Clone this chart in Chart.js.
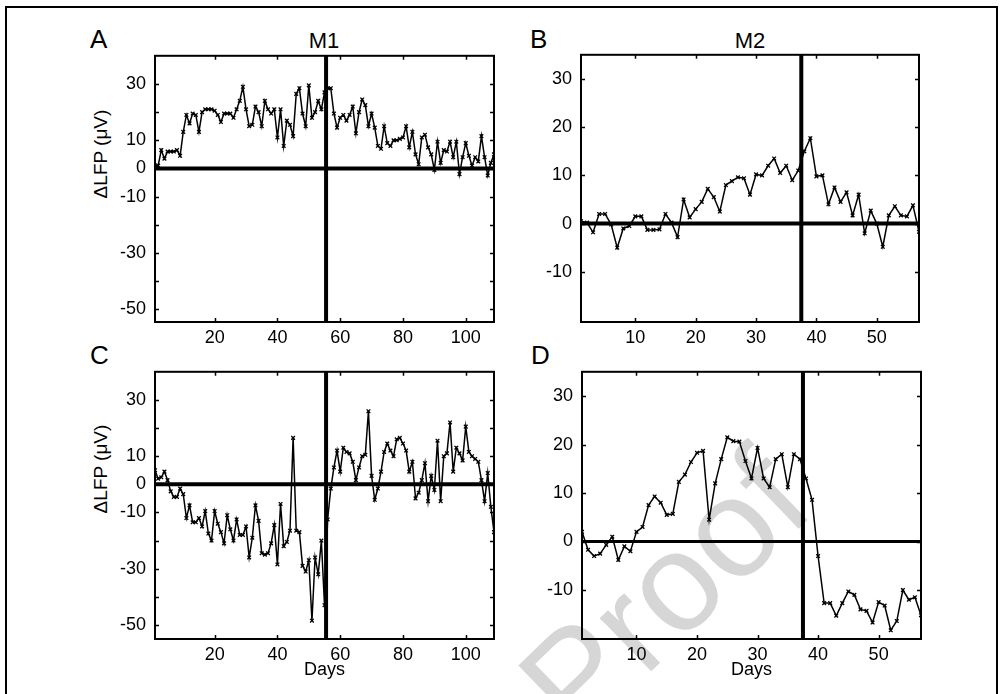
<!DOCTYPE html>
<html>
<head>
<meta charset="utf-8">
<script src="https://cdn.jsdelivr.net/npm/chart.js@4.4.1/dist/chart.umd.min.js"></script>
<style>
  html, body { margin:0; padding:0; background:#fff; width:1003px; height:694px; overflow:hidden; font-family:"Liberation Sans", Arial, sans-serif; }
  .frame { position:absolute; left:5px; top:6px; width:989px; height:760px; border:2px solid #000; }
  .lbl { position:absolute; color:#000; line-height:1; white-space:nowrap; }
  .ylab { position:absolute; color:#000; line-height:1; white-space:nowrap; font-size:19px; transform:translate(-50%,-50%) rotate(-90deg); }
  .wm { position:absolute; color:#d6d6d6; font-size:140px; line-height:1; white-space:nowrap; transform:translate(-50%,-50%) rotate(-44deg); }
  .panel { position:absolute; }
  .panel canvas { display:block; }
</style>
</head>
<body>
<div class="frame"></div>
<div class="wm" style="left:664px; top:592px;">Proof</div>

<div class="lbl" style="left:90px; top:26px; font-size:26px;">A</div>
<div class="lbl" style="left:530px; top:26px; font-size:26px;">B</div>
<div class="lbl" style="left:90px; top:342px; font-size:26px;">C</div>
<div class="lbl" style="left:531px; top:342px; font-size:26px;">D</div>
<div class="lbl" style="left:324px; top:30px; font-size:22px; transform:translateX(-50%);">M1</div>
<div class="lbl" style="left:750px; top:30px; font-size:22px; transform:translateX(-50%);">M2</div>
<div class="ylab" style="left:100px; top:154px;">ΔLFP (μV)</div>
<div class="ylab" style="left:100px; top:469px;">ΔLFP (μV)</div>

<div class="panel" id="pA"><canvas id="cA"></canvas></div>
<div class="panel" id="pB"><canvas id="cB"></canvas></div>
<div class="panel" id="pC"><canvas id="cC"></canvas></div>
<div class="panel" id="pD"><canvas id="cD"></canvas></div>

<script>
// ---------------- DATA ----------------
// Days (categories)
const daysM1 = [];
for (let d = 1; d <= 109; d++) daysM1.push(d);
const daysM2 = [];
for (let d = 1; d <= 57; d++) daysM2.push(d);

// Panel A (M1, top)
const valuesA = [
  1, 1, 6.5, 3.5, 6, 6, 6, 6.5, 4.5, 13,
  19, 16, 19.5, 19, 13, 20, 21, 21, 21, 20.5,
  19, 16.5, 19.5, 19.5, 19.5, 18, 21, 24, 29, 21,
  15, 15.5, 22, 20, 15, 24, 21, 19.5, 21, 11,
  21, 8, 17, 15.5, 11.5, 26.5, 28.5, 19.5, 15, 29.5,
  18, 20, 24, 21, 27, 28.5, 28.5, 19.5, 14.5, 18,
  19, 17, 19, 22, 12.5, 20, 24.5, 22.5, 15, 19.5,
  14.5, 8, 7, 15, 9, 8, 10, 10, 10.5, 11,
  15, 7.5, 13, 5, 1.5, 11, 12, 7.5, 5, -0.5,
  9.5, 2, 6.5, 6, 9.5, 4, 9.5, -2, 4, 9,
  4.5, 1, 4, 2.5, 11.5, 4, -2.5, 2, 5
];
// Panel B (M2, top)
const valuesB = [
  0.5, 0.2, -1.8, 2, 2, -0.2, -5, -1, -0.5, 1.5,
  1.5, -1.3, -1.3, -1.2, 2, 0.2, -2.8, 5, 1.3, 3,
  4.5, 7.2, 5.5, 2.5, 8, 8.8, 9.6, 9.4, 6, 10.2,
  10, 12, 13.5, 10.5, 12, 9, 11, 15, 17.7, 9.8,
  10, 4, 7.5, 4.5, 6.5, 1.7, 6, -2, 2.7, 0,
  -4.8, 1.7, 3.6, 1.7, 1.5, 3.8, -1.7
];
// Panel C (M1, bottom)
const valuesC = [
  5, 2, 2.5, 4.5, 1.5, -2.5, -4.5, -4.5, -1.5, -3.5,
  -12, -7.5, -13.5, -13.5, -12, -15, -9.5, -17.5, -20, -9.5,
  -14, -17, -21, -11, -16, -20, -12.5, -18, -18, -15,
  -26, -19, -7.5, -13, -24.5, -25, -24.5, -21, -14.5, -28.5,
  -7, -22, -20.5, -16.5, 16.5, -16.5, -17, -29, -31, -27,
  -48.5, -26, -32, -20, -43, -12.5, -1.5, 6, 12, 4.5,
  13, 11.5, 11, 8, 1.5, 6, 10, 10.5, 26, 3,
  -5.5, -1.5, 4.5, 11.5, 14.5, 12, 10, 16, 16.5, 14.5,
  12, 4.5, 8, -5, -3, 1.5, 7.5, -6, 3, -2,
  15.5, -6, 10, 11, 22, 4.5, 13, 11, 8.5, 20.5,
  11.5, 10, 9, 8, 1.5, -6, 4, -8, -17
];
// Panel D (M2, bottom)
const valuesD = [
  2, -1.7, -3, -2.5, -0.7, 1, -3.8, -1, -2, 2,
  3, 7.5, 9.3, 8, 5.5, 5.7, 12.3, 13.8, 16.4, 18.3,
  18.7, 4.5, 12, 17, 21.5, 20.7, 20.6, 16.6, 13, 19.3,
  13, 11.2, 17, 18, 11.2, 18, 17, 13, 8.6, -3,
  -12.7, -12.7, -15.3, -12.7, -10.3, -11, -14, -14.3, -16.7, -12.5,
  -13.2, -18.3, -16.4, -10, -12, -11.5, -15.2
];

// Event days (vertical lines)
const eventDayM1 = 55.5;
const eventDayM2 = 37.5;

// Tick values / labels
const xTicksM1 = [20, 40, 60, 80, 100];
const xTicksM2 = [10, 20, 30, 40, 50];
const yTicksM1 = [-50, -40, -30, -20, -10, 0, 10, 20, 30];
const yLabelsM1 = [-50, -30, -10, 0, 10, 30];
const yTicksM2 = [-10, 0, 10, 20, 30];
const yLabelsM2 = [-10, 0, 10, 20, 30];

// ---------------- DRAWING ----------------
const AX_W = 80, PAD_T = 12, PAD_R = 10, AX_H = 42;
const FONT = '"Liberation Sans", Arial, sans-serif';

const boxPlugin = {
  id: 'matlabBox',
  afterDatasetsDraw(chart) {
    const { ctx, chartArea: a, scales: { x, y } } = chart;
    const L = 4;
    ctx.save();
    ctx.strokeStyle = '#000';
    ctx.lineWidth = 1.5;
    ctx.beginPath();
    x.ticks.forEach(t => {
      const px = Math.round(x.getPixelForValue(t.value)) + 0.5;
      ctx.moveTo(px, a.bottom); ctx.lineTo(px, a.bottom - L);
      ctx.moveTo(px, a.top); ctx.lineTo(px, a.top + L);
    });
    y.ticks.forEach(t => {
      const py = Math.round(y.getPixelForValue(t.value)) + 0.5;
      ctx.moveTo(a.left, py); ctx.lineTo(a.left + L, py);
      ctx.moveTo(a.right, py); ctx.lineTo(a.right - L, py);
    });
    ctx.stroke();
    ctx.lineWidth = 2;
    ctx.strokeRect(a.left, a.top, a.right - a.left, a.bottom - a.top);
    ctx.restore();
  }
};

function makeConfig(g) {
  const series = g.days.map((d, i) => ({ x: d, y: g.values[i] }));
  const tickFont = { family: FONT, size: 18 };
  return {
    type: 'line',
    data: {
      datasets: [
        { data: [{ x: g.xMin, y: 0 }, { x: g.xMax, y: 0 }], borderColor: '#000', borderWidth: g.zeroW, pointRadius: 0 },
        { data: [{ x: g.event, y: g.yMin }, { x: g.event, y: g.yMax }], borderColor: '#000', borderWidth: 4, pointRadius: 0 },
        { data: series, borderColor: '#000', borderWidth: 1.5, pointStyle: 'crossRot', pointRadius: 2.6,
          pointBorderWidth: 1.3, pointBorderColor: '#000', pointBackgroundColor: '#000', tension: 0 }
      ]
    },
    options: {
      responsive: false, animation: false, devicePixelRatio: 1,
      layout: { padding: { left: 0, top: PAD_T, right: PAD_R, bottom: 0 } },
      plugins: { legend: { display: false }, tooltip: { enabled: false } },
      scales: {
        x: {
          type: 'linear', min: g.xMin, max: g.xMax,
          afterBuildTicks: s => { s.ticks = g.xTicks.map(v => ({ value: v })); },
          afterFit: s => { s.height = AX_H; },
          grid: { display: false, drawTicks: false }, border: { display: false },
          ticks: { color: '#000', font: tickFont, padding: 5, autoSkip: false, maxRotation: 0, callback: v => String(v) },
          title: { display: !!g.xTitle, text: g.xTitle || '', color: '#000', font: { family: FONT, size: 18 }, padding: { top: 0, bottom: 0 } }
        },
        y: {
          type: 'linear', min: g.yMin, max: g.yMax,
          afterBuildTicks: s => { s.ticks = g.yTicks.map(v => ({ value: v })); },
          afterFit: s => { s.width = AX_W; },
          grid: { display: false, drawTicks: false }, border: { display: false },
          ticks: { color: '#000', font: tickFont, padding: 9, autoSkip: false,
                   callback: v => g.yLabels.includes(v) ? String(v) : '' }
        }
      }
    },
    plugins: [boxPlugin]
  };
}

function makePanel(pid, cid, g) {
  const p = document.getElementById(pid);
  const c = document.getElementById(cid);
  function build(W, H) {
    c.width = W; c.height = H;
    c.style.width = W + 'px'; c.style.height = H + 'px';
    return new Chart(c, makeConfig(g));
  }
  let W = AX_W + g.w + PAD_R, H = PAD_T + g.h + AX_H;
  let chart = build(W, H);
  let ca = chart.chartArea;
  const W2 = Math.round(W + g.w - (ca.right - ca.left));
  const H2 = Math.round(H + g.h - (ca.bottom - ca.top));
  if (W2 !== W || H2 !== H) {
    chart.destroy();
    chart = build(W2, H2);
    ca = chart.chartArea;
  }
  p.style.left = Math.round(g.left - ca.left) + 'px';
  p.style.top = Math.round(g.top - ca.top) + 'px';
}

makePanel('pA', 'cA', { left: 155, top: 56, w: 339, h: 266, days: daysM1, values: valuesA, xMin: 1, xMax: 109,
  yMin: -54.5, yMax: 40, xTicks: xTicksM1, yTicks: yTicksM1, yLabels: yLabelsM1, event: eventDayM1, zeroW: 4 });
makePanel('pB', 'cB', { left: 581, top: 55, w: 338, h: 267, days: daysM2, values: valuesB, xMin: 1, xMax: 57,
  yMin: -20.4, yMax: 35, xTicks: xTicksM2, yTicks: yTicksM2, yLabels: yLabelsM2, event: eventDayM2, zeroW: 4 });
makePanel('pC', 'cC', { left: 155, top: 372, w: 339, h: 267, days: daysM1, values: valuesC, xMin: 1, xMax: 109,
  yMin: -55, yMax: 40, xTicks: xTicksM1, yTicks: yTicksM1, yLabels: yLabelsM1, event: eventDayM1, zeroW: 4, xTitle: 'Days' });
makePanel('pD', 'cD', { left: 582, top: 372, w: 339, h: 267, days: daysM2, values: valuesD, xMin: 1, xMax: 57,
  yMin: -20.1, yMax: 35, xTicks: xTicksM2, yTicks: yTicksM2, yLabels: yLabelsM2, event: eventDayM2, zeroW: 3, xTitle: 'Days' });
</script>
</body>
</html>
